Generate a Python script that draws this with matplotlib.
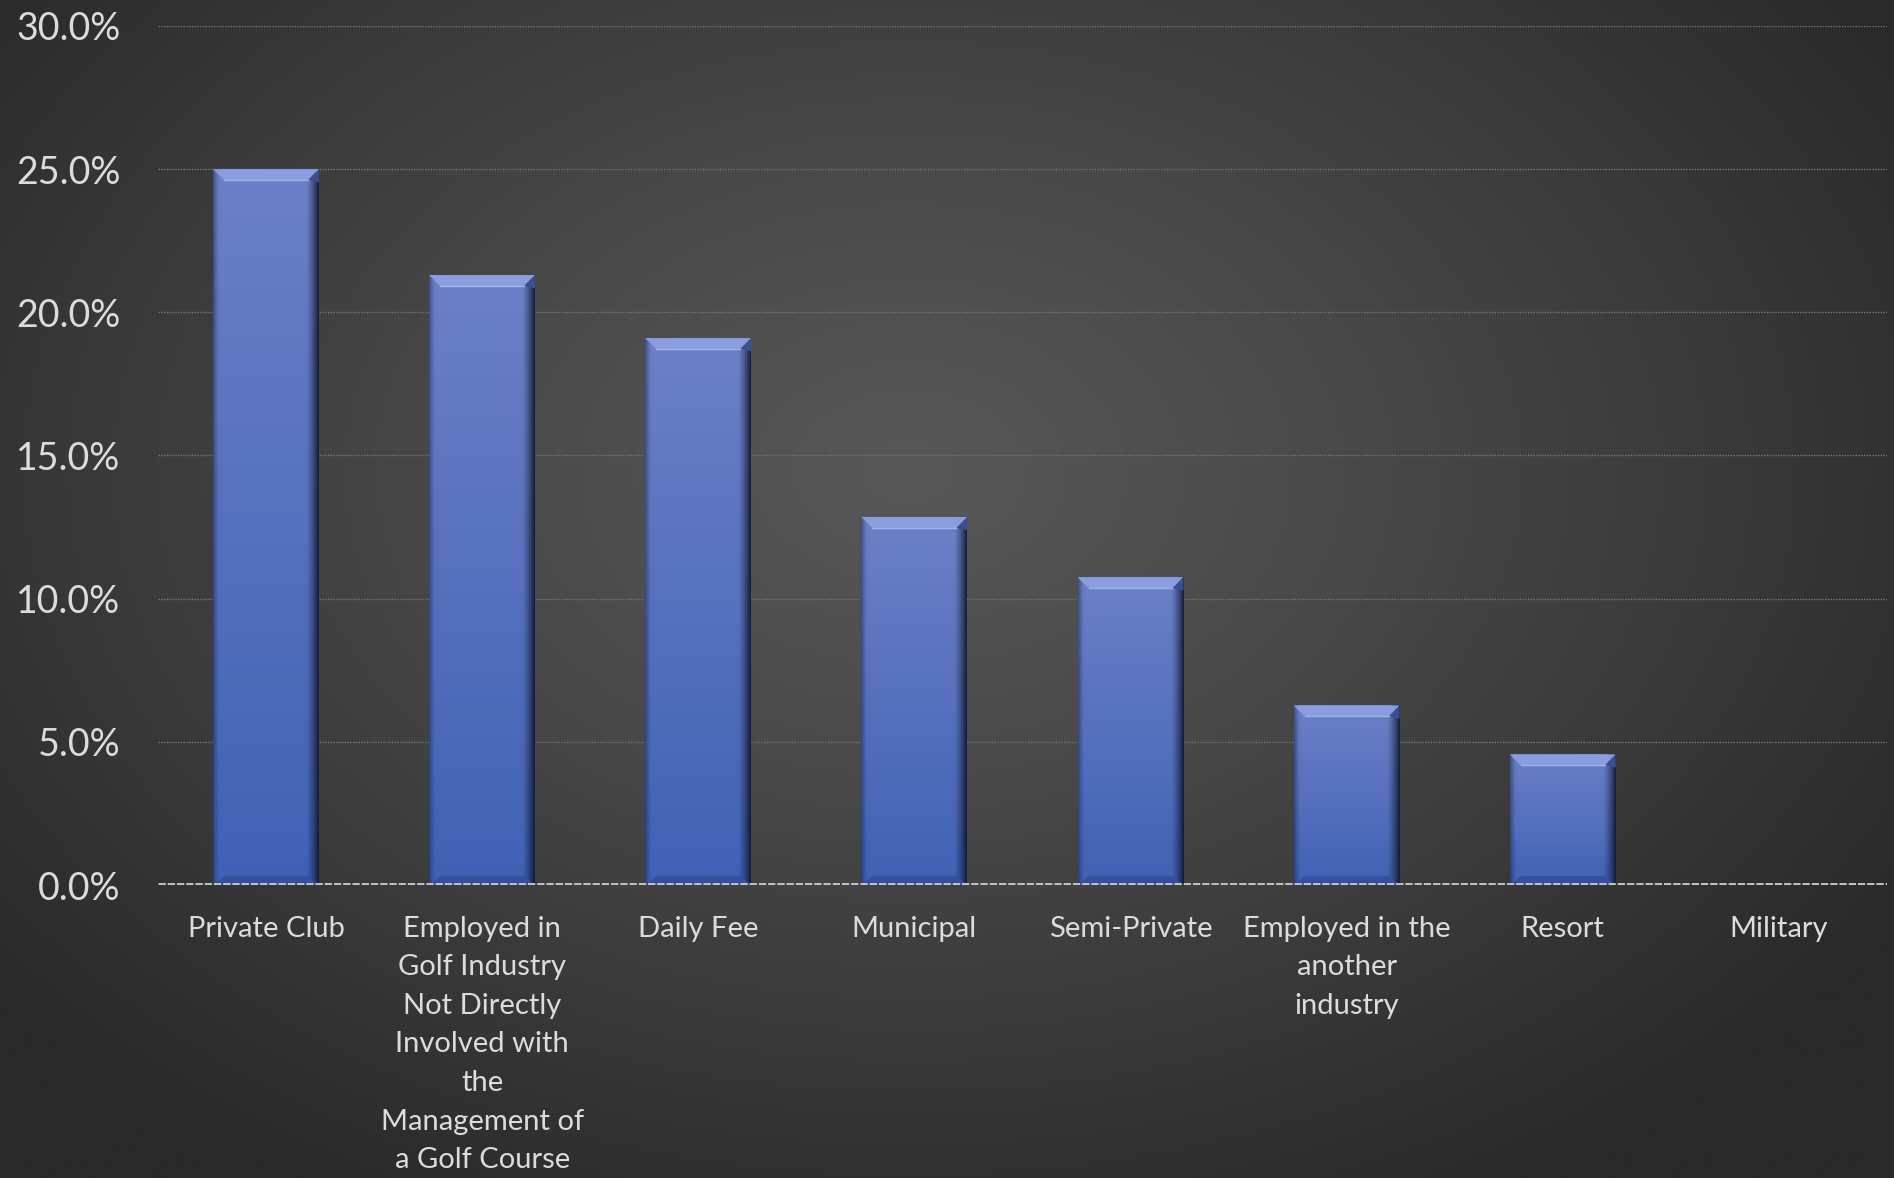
import matplotlib

matplotlib.use("Agg")
import matplotlib.pyplot as plt
import numpy as np
from matplotlib import ticker
from matplotlib.colors import to_rgb

FIGURE_SIZE = (18.94, 11.78)
TEXT_COLOR = "#dcdcdc"
BAR_TOP = "#6b80c6"
BAR_BOTTOM = "#4161b5"
BEVEL_LIGHT = "#8a9dde"
EDGE_DARK = "#121a36"

categories = [
    "Private Club",
    "Employed in\nGolf Industry\nNot Directly\nInvolved with\nthe\nManagement of\na Golf Course",
    "Daily Fee",
    "Municipal",
    "Semi-Private",
    "Employed in the\nanother\nindustry",
    "Resort",
    "Military",
]
shares = [0.250, 0.213, 0.191, 0.1285, 0.1075, 0.0627, 0.0456, 0.0]
y_ticks = [0.0, 0.05, 0.10, 0.15, 0.20, 0.25, 0.30]

plt.rcParams["font.family"] = ["Lato", "DejaVu Sans"]

fig = plt.figure(figsize=FIGURE_SIZE, dpi=100)

# Radial background like the Office chart style
bg = fig.add_axes([0, 0, 1, 1], zorder=-10)
yy, xx = np.mgrid[0:1:400j, 0:1:640j]
r = np.sqrt(((xx - 0.48) / 0.62) ** 2 + ((yy - 0.40) / 0.70) ** 2)
t = np.clip(r, 0, 1) ** 1.2
c_in, c_out = np.array(to_rgb("#575757")), np.array(to_rgb("#292929"))
img = c_in[None, None, :] * (1 - t[..., None]) + c_out[None, None, :] * t[..., None]
bg.imshow(img, aspect="auto", extent=[0, 1, 0, 1], origin="upper")
bg.axis("off")

ax = fig.add_axes([0.0834, 0.2487, 0.9129, 0.7293])
ax.patch.set_alpha(0)

x = np.arange(len(categories))
width = 0.49
bars = ax.bar(x, shares, width=width, color=BAR_BOTTOM, zorder=3)

ax.set_xlim(-0.5, len(categories) - 0.5)
ax.set_ylim(0, 0.30)

# px -> data conversion for bevel sizes
fig.canvas.draw()
p0 = ax.transData.inverted().transform((0, 0))
p1 = ax.transData.inverted().transform((11, 11))
dx, dy = p1 - p0

# Gradient fill for each bar: vertical blue ramp, soft dark sides
grad_v = np.linspace(0, 1, 200)[:, None]
grad_h = np.linspace(0, 1, 100)[None, :]
top, bot, dark = (np.array(to_rgb(c)) for c in (BAR_TOP, BAR_BOTTOM, EDGE_DARK))
body = top * (1 - grad_v[..., None]) + bot * grad_v[..., None]
body = np.broadcast_to(body, (200, 100, 3)).copy()
edge = np.clip((grad_h - 0.88) / 0.12, 0, 1) ** 1.4 * 0.95
left_edge = np.clip((0.06 - grad_h) / 0.06, 0, 1) ** 1.5 * 0.45
shade = np.maximum(edge, left_edge)[..., None]
body = body * (1 - shade) + dark * shade

for bar, val in zip(bars, shares):
    if val <= 0:
        continue
    x0, w = bar.get_x(), bar.get_width()
    x1 = x0 + w
    im = ax.imshow(body, extent=[x0, x1, 0, val], aspect="auto", zorder=3,
                   origin="upper", interpolation="bilinear")
    im.set_clip_path(bar)
    # top bevel
    ax.fill([x0, x1, x1 - dx, x0 + dx], [val, val, val - dy, val - dy],
            color=BEVEL_LIGHT, zorder=4, lw=0)
    ax.fill([x1, x1, x1 - dx], [val, val - dy * 1.2, val - dy],
            color="#3b4f8f", zorder=4, lw=0)
    ax.plot([x0 + dx, x1 - dx], [val - dy, val - dy], color="#a3b3e8",
            lw=1.0, zorder=4)
    # bottom bevel
    ax.fill([x0, x1, x1 - dx, x0 + dx], [0, 0, dy * 0.8, dy * 0.8],
            color="#33509d", zorder=4, lw=0)

# Gridlines and baseline
for yv in y_ticks[1:]:
    ax.axhline(yv, color="#777777", lw=1.0, ls=(0, (1, 1)), zorder=1)
ax.axhline(0, color="#c4c4c4", lw=3.5, ls=(0, (1.5, 0.4)), zorder=5)

ax.set_yticks(y_ticks)
ax.yaxis.set_major_formatter(ticker.FuncFormatter(lambda v, _: f"{v * 100:.1f}%"))
ax.set_xticks(x)
ax.set_xticklabels(categories, linespacing=1.6)

ax.tick_params(axis="y", length=0, pad=27, labelsize=27, colors=TEXT_COLOR)
ax.tick_params(axis="x", length=0, pad=22, labelsize=21, colors=TEXT_COLOR)
for spine in ax.spines.values():
    spine.set_visible(False)

fig.savefig("out.png", dpi=100)
